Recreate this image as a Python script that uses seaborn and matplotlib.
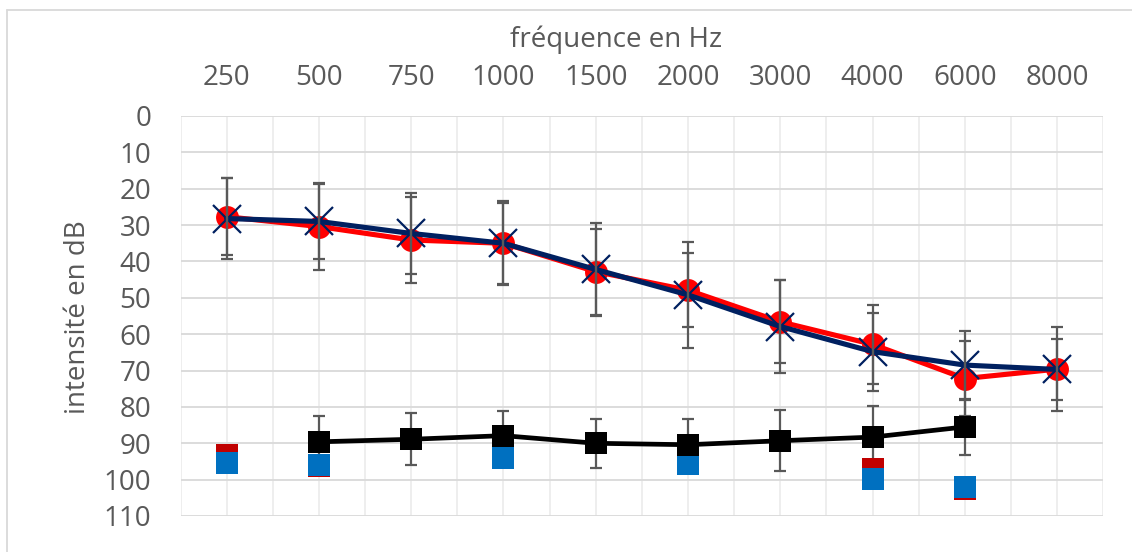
import numpy as np
import pandas as pd
import matplotlib
matplotlib.use("Agg")
import matplotlib.pyplot as plt
from matplotlib.lines import Line2D
import seaborn as sns

# Audiogram data: one value per frequency band (dB HL, plotted downward)
freqs = ["250", "500", "750", "1000", "1500", "2000", "3000", "4000", "6000", "8000"]

red_mean = [27.7, 30.4, 34.1, 35.0, 42.8, 47.9, 56.6, 62.8, 72.2, 69.6]
red_err = [10.6, 12.0, 11.8, 11.5, 11.8, 10.2, 11.4, 10.8, 10.2, 11.6]

navy_mean = [28.2, 29.0, 32.3, 35.0, 42.2, 49.2, 57.9, 64.8, 68.5, 69.7]
navy_err = [11.2, 10.4, 11.2, 11.2, 12.7, 14.6, 12.7, 10.7, 9.5, 8.3]

black_mean = [np.nan, 89.6, 88.9, 87.9, 90.0, 90.4, 89.3, 88.3, 85.5, np.nan]
black_err = [np.nan, 7.1, 7.2, 6.9, 6.7, 7.2, 8.4, 8.5, 7.7, np.nan]

red_sq = [93.2, 96.3, np.nan, 94.1, np.nan, 95.4, np.nan, 97.1, 102.5, np.nan]
blue_sq = [95.3, 96.0, np.nan, 94.1, np.nan, 95.6, np.nan, 99.7, 101.9, np.nan]

df = pd.DataFrame({
    "pos": np.arange(len(freqs)),
    "red_mean": red_mean, "red_err": red_err,
    "navy_mean": navy_mean, "navy_err": navy_err,
    "black_mean": black_mean, "black_err": black_err,
    "red_sq": red_sq, "blue_sq": blue_sq,
})

sns.set_theme(style="white")
plt.rcParams["font.family"] = ["Open Sans", "DejaVu Sans"]

TEXT = "#595959"
ERR = "#595959"

fig = plt.figure(figsize=(11.32, 5.52), dpi=100)
ax = fig.add_axes([180.5 / 1132, 1 - 516 / 552, (1103.3 - 180.5) / 1132, 400 / 552])

# Mean curves with markers
sns.lineplot(data=df, x="pos", y="red_mean", color="#FF0000", linewidth=3.7,
             marker="o", markersize=16.5, markeredgewidth=0, ax=ax,
             errorbar=None, sort=False, zorder=3)
sns.lineplot(data=df, x="pos", y="navy_mean", color="#002060", linewidth=3.7,
             marker="x", markersize=19.5, markeredgewidth=1.6,
             markeredgecolor="#002060", ax=ax, errorbar=None, sort=False, zorder=4)

# Standard-deviation whiskers
for m, e in (("red_mean", "red_err"), ("navy_mean", "navy_err"), ("black_mean", "black_err")):
    ax.errorbar(df["pos"], df[m], yerr=df[e], fmt="none", ecolor=ERR,
                elinewidth=1.6, capsize=4.2, capthick=1.6, zorder=5)

# Individual square markers
sns.scatterplot(data=df, x="pos", y="red_sq", marker="s", s=272,
                color="#C00000", linewidth=0, ax=ax, zorder=6)
sns.scatterplot(data=df, x="pos", y="blue_sq", marker="s", s=272,
                color="#0070C0", linewidth=0, ax=ax, zorder=6.5)

sns.lineplot(data=df, x="pos", y="black_mean", color="#000000", linewidth=3.4,
             marker="s", markersize=16.5, markeredgewidth=0, ax=ax,
             errorbar=None, sort=False, zorder=7)

# Axes: reversed intensity scale, frequency labels on top
ax.set_xlim(-0.5, len(freqs) - 0.5)
ax.set_ylim(110, 0)
ax.set_yticks(np.arange(0, 111, 10))
ax.set_xticks(np.arange(len(freqs)))
ax.set_xticks(np.arange(-0.5, len(freqs), 1.0), minor=True)
ax.set_xticklabels(freqs)
ax.xaxis.tick_top()
ax.xaxis.set_label_position("top")
ax.tick_params(axis="both", which="both", length=0, labelsize=20, labelcolor=TEXT)
ax.tick_params(axis="x", pad=17.5)
ax.tick_params(axis="y", pad=21)

ax.grid(axis="y", color="#D9D9D9", linewidth=1.3)
ax.grid(axis="x", which="both", color="#EDEDED", linewidth=1.3)
ax.set_axisbelow(True)
for s in ax.spines.values():
    s.set_visible(False)

ax.set_xlabel("")
ax.set_ylabel("")
fig.text(616 / 1132, 1 - 40 / 552, "fréquence en Hz", ha="center", va="center",
         fontsize=20, color=TEXT)
fig.text(78 / 1132, 1 - 317 / 552, "intensité en dB", ha="center", va="center",
         rotation=90, fontsize=20, color=TEXT)

# Chart frame (top and left edges)
fig.add_artist(Line2D([7 / 1132, 7 / 1132], [0, 1 - 10 / 552], transform=fig.transFigure,
                      color="#D9D9D9", linewidth=1.3))
fig.add_artist(Line2D([7 / 1132, 1], [1 - 10 / 552, 1 - 10 / 552], transform=fig.transFigure,
                      color="#D9D9D9", linewidth=1.3))

fig.savefig("out.png", dpi=100, facecolor="white")
